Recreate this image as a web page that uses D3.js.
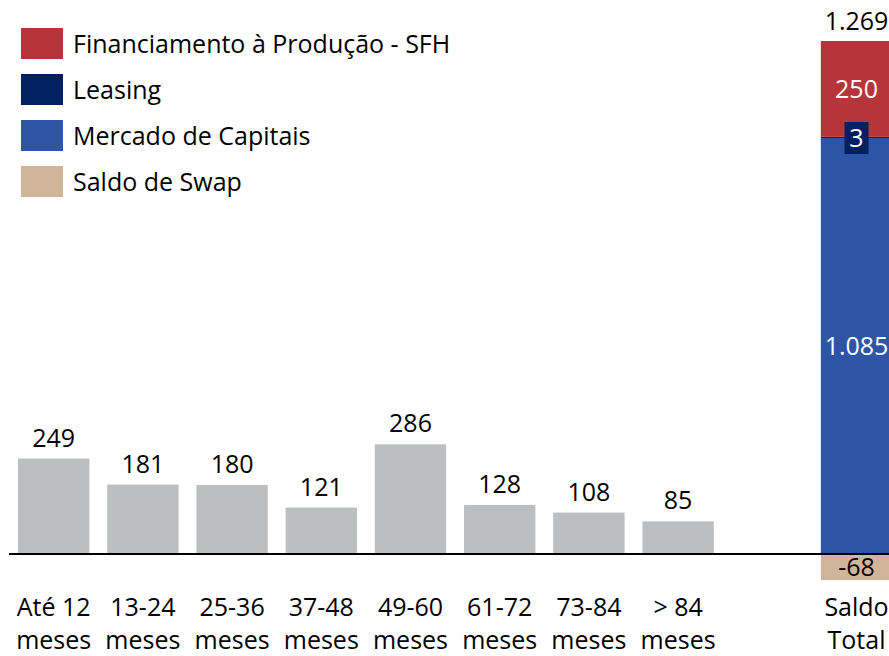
<!DOCTYPE html>
<html><head><meta charset="utf-8">
<script src="https://cdn.jsdelivr.net/npm/d3@7"></script>
<style>body{margin:0;background:#fff;overflow:hidden}svg{display:block}text{font-family:"Open Sans",Lato,sans-serif}</style>
</head><body>
<svg id="c" width="889" height="656"></svg>
<script>
const categories = ["Até 12|meses","13-24|meses","25-36|meses","37-48|meses","49-60|meses","61-72|meses","73-84|meses","> 84|meses"];
const values = [249,181,180,121,286,128,108,85];
const totalLabel = "Saldo|Total";
const seriesNames = ["Financiamento à Produção - SFH","Leasing","Mercado de Capitais","Saldo de Swap"];
const seriesColors = ["#B7353A","#002060","#2E55A5","#D1B59A"];
const totalParts = [250,3,1085,-68];
const totalValueLabel = "1.269";
const partLabels = ["250","3","1.085","-68"];

const svg = d3.select("#c");
const keys = d3.range(10);
const x = d3.scaleBand().domain(keys).range([18,892.2]).paddingInner(0.2).paddingOuter(0);
const posTop = totalParts[2]+totalParts[1]+totalParts[0];
const y = d3.scaleLinear().domain([0,posTop]).range([554,41]);
const fs = 25;

// gray bars
svg.selectAll("rect.bar").data(values).join("rect")
  .attr("x",(d,i)=>x(i)).attr("width",x.bandwidth())
  .attr("y",d=>y(d)).attr("height",d=>y(0)-y(d)).attr("fill","#BDBEC0");
svg.selectAll("text.val").data(values).join("text")
  .attr("x",(d,i)=>x(i)+x.bandwidth()/2).attr("y",d=>y(d)-12)
  .attr("text-anchor","middle").attr("font-size",fs).attr("fill","#000").text(d=>d);

// stacked total bar
const ti = 9, tx = x(ti), tw = x.bandwidth(), tc = tx+tw/2;
const segs = [
  {v0:0, v1:totalParts[2], c:seriesColors[2]},
  {v0:totalParts[2], v1:totalParts[2]+totalParts[1], c:seriesColors[1]},
  {v0:totalParts[2]+totalParts[1], v1:posTop, c:seriesColors[0]},
  {v0:totalParts[3], v1:0, c:seriesColors[3]}
];
svg.selectAll("rect.seg").data(segs).join("rect")
  .attr("x",tx).attr("width",tw)
  .attr("y",d=>y(Math.max(d.v0,d.v1))).attr("height",d=>Math.abs(y(d.v0)-y(d.v1))).attr("fill",d=>d.c);

// baseline
svg.append("line").attr("x1",9).attr("x2",889).attr("y1",y(0)).attr("y2",y(0)).attr("stroke","#000").attr("stroke-width",2);

// total labels
svg.append("text").attr("x",tc).attr("y",y(posTop)-11).attr("text-anchor","middle").attr("font-size",fs).text(totalValueLabel);
svg.append("text").attr("x",tc).attr("y",y((segs[2].v0+segs[2].v1)/2)+9).attr("text-anchor","middle").attr("font-size",fs).attr("fill","#fff").text(partLabels[0]);
const ly = y(totalParts[2]);
svg.append("rect").attr("x",tc-12).attr("y",ly-16).attr("width",24).attr("height",32).attr("fill",seriesColors[1]);
svg.append("text").attr("x",tc).attr("y",ly+9).attr("text-anchor","middle").attr("font-size",fs).attr("fill","#fff").text(partLabels[1]);
svg.append("text").attr("x",tc).attr("y",y(totalParts[2]/2)+9).attr("text-anchor","middle").attr("font-size",fs).attr("fill","#fff").text(partLabels[2]);
svg.append("text").attr("x",tc).attr("y",y(totalParts[3]/2)+9).attr("text-anchor","middle").attr("font-size",fs).attr("fill","#000").text(partLabels[3]);

// category labels
const allCats = categories.map((c,i)=>({c,i})).concat([{c:totalLabel,i:9}]);
allCats.forEach(d=>{
  const parts = d.c.split("|");
  const t = svg.append("text").attr("text-anchor","middle").attr("font-size",fs);
  parts.forEach((p,k)=>t.append("tspan").attr("x",x(d.i)+x.bandwidth()/2).attr("y",616+k*33).text(p));
});

// legend
const lg = svg.append("g");
seriesNames.forEach((n,i)=>{
  lg.append("rect").attr("x",21).attr("y",28+i*46).attr("width",42).attr("height",31).attr("fill",seriesColors[i]);
  lg.append("text").attr("x",73).attr("y",44+i*46+9).attr("font-size",fs).text(n);
});
</script>
</body></html>
